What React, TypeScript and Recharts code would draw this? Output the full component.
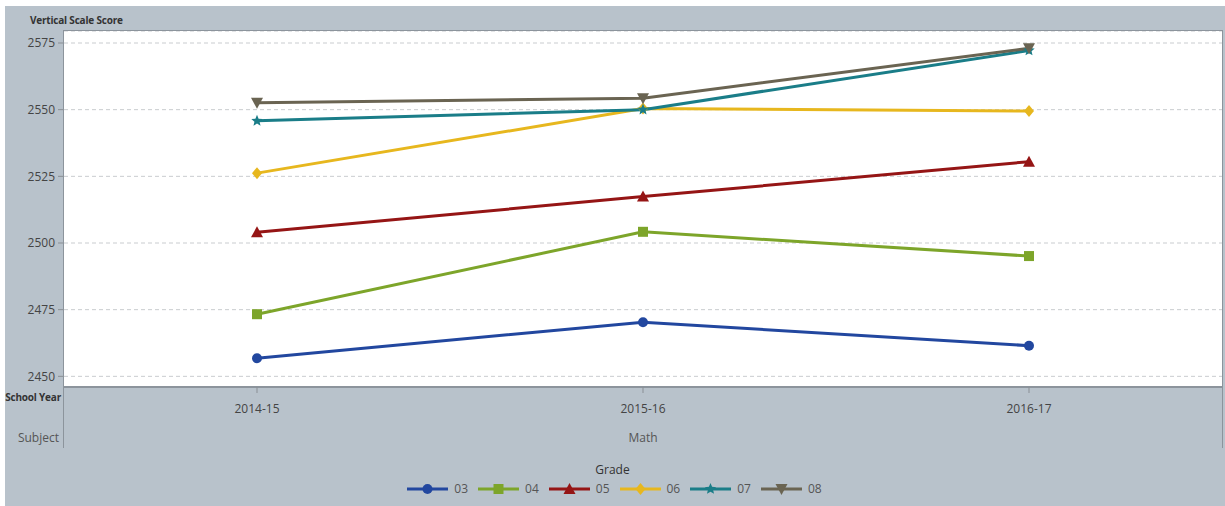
import * as React from 'react';
import { LineChart, Line, XAxis, YAxis, CartesianGrid } from 'recharts';

// ---- data ------------------------------------------------------------------
const schoolYears = ['2014-15', '2015-16', '2016-17'];
const grade03 = [2456.8, 2470.3, 2461.5];
const grade04 = [2473.3, 2504.2, 2495.1];
const grade05 = [2504.0, 2517.4, 2530.5];
const grade06 = [2526.2, 2550.4, 2549.5];
const grade07 = [2545.8, 2550.0, 2572.2];
const grade08 = [2552.6, 2554.3, 2573.0];
const yTicks = [2450, 2475, 2500, 2525, 2550, 2575];

const data = schoolYears.map((year, i) => ({
  year,
  g03: grade03[i],
  g04: grade04[i],
  g05: grade05[i],
  g06: grade06[i],
  g07: grade07[i],
  g08: grade08[i],
}));

type Shape = 'circle' | 'square' | 'triUp' | 'diamond' | 'star' | 'triDown';

const series: { key: string; name: string; color: string; shape: Shape }[] = [
  { key: 'g03', name: '03', color: '#22479f', shape: 'circle' },
  { key: 'g04', name: '04', color: '#7da52a', shape: 'square' },
  { key: 'g05', name: '05', color: '#951515', shape: 'triUp' },
  { key: 'g06', name: '06', color: '#e7b71e', shape: 'diamond' },
  { key: 'g07', name: '07', color: '#1a7d88', shape: 'star' },
  { key: 'g08', name: '08', color: '#6a6452', shape: 'triDown' },
];

const FONT = '"Open Sans", "Noto Sans", sans-serif';
const PANEL = '#b8c2cb';
const EDGE = '#8c949c';

function Marker({ shape, color, cx, cy, r = 5 }: { shape: Shape; color: string; cx: number; cy: number; r?: number }) {
  switch (shape) {
    case 'circle':
      return <circle cx={cx} cy={cy} r={r} fill={color} />;
    case 'square':
      return <rect x={cx - r} y={cy - r} width={r * 2} height={r * 2} fill={color} />;
    case 'triUp':
      return <polygon points={`${cx},${cy - r - 1} ${cx + r + 1},${cy + r} ${cx - r - 1},${cy + r}`} fill={color} />;
    case 'triDown':
      return <polygon points={`${cx - r - 1},${cy - r} ${cx + r + 1},${cy - r} ${cx},${cy + r + 1}`} fill={color} />;
    case 'diamond':
      return <polygon points={`${cx},${cy - r - 1} ${cx + r},${cy} ${cx},${cy + r + 1} ${cx - r},${cy}`} fill={color} />;
    case 'star': {
      const pts: string[] = [];
      for (let k = 0; k < 10; k++) {
        const rad = k % 2 === 0 ? r + 1 : (r + 1) * 0.45;
        const a = -Math.PI / 2 + (k * Math.PI) / 5;
        pts.push(`${cx + rad * Math.cos(a)},${cy + rad * Math.sin(a)}`);
      }
      return <polygon points={pts.join(' ')} fill={color} />;
    }
  }
  return null;
}

// legend drawn outside the chart so it does not shrink the plot area
function GradeLegend() {
  return (
    <div style={{ position: 'absolute', left: 0, top: 461, width: 1225, fontFamily: FONT, textAlign: 'center' }}>
      <div style={{ fontSize: 12, color: '#333', marginBottom: 2 }}>Grade</div>
      <div style={{ display: 'flex', justifyContent: 'center', gap: 10, alignItems: 'center', paddingLeft: 4 }}>
        {series.map((s) => (
          <div key={s.key} style={{ display: 'flex', alignItems: 'center', gap: 6 }}>
            <svg width={41} height={14}>
              <line x1={0} y1={7} x2={41} y2={7} stroke={s.color} strokeWidth={3} />
              <Marker shape={s.shape} color={s.color} cx={20.5} cy={7} />
            </svg>
            <span style={{ fontSize: 12, color: '#555' }}>{s.name}</span>
          </div>
        ))}
      </div>
    </div>
  );
}

export default function App() {
  return (
    <div style={{ position: 'absolute', left: 0, top: 0, width: 1225, height: 506, background: '#fff', fontFamily: FONT }}>
      <div style={{ position: 'absolute', left: 5, top: 6, right: 0, bottom: 0, background: PANEL }} />

      <div style={{ position: 'absolute', left: 30, top: 13, fontSize: 10, fontWeight: 700, color: '#333', letterSpacing: -0.2 }}>
        Vertical Scale Score
      </div>

      <div style={{ position: 'absolute', left: 0, top: 0 }}>
        <LineChart width={1225} height={506} data={data} margin={{ top: 31, right: 3, bottom: 59, left: 5 }}>
          <CartesianGrid horizontal vertical={false} fill="#ffffff" stroke="#c9cccf" strokeDasharray="4 3" />
          <XAxis
            dataKey="year"
            padding={{ left: 193, right: 193 }}
            height={60}
            axisLine={{ stroke: EDGE, strokeWidth: 2 }}
            tickLine={{ stroke: '#8a8f95' }}
            tickSize={6}
            tickMargin={11}
            tick={{ fontSize: 12, fill: '#444', fontFamily: FONT }}
          />
          <YAxis
            domain={[2446, 2579.5]}
            ticks={yTicks}
            width={59}
            axisLine={false}
            tickLine={{ stroke: '#8a8f95' }}
            tickSize={6}
            tickMargin={3}
            tick={{ fontSize: 12, fill: '#444', fontFamily: FONT }}
          />
          {series.map((s) => (
            <Line
              key={s.key}
              dataKey={s.key}
              name={s.name}
              stroke={s.color}
              strokeWidth={3}
              isAnimationActive={false}
              dot={(p: any) => <Marker key={`${s.key}-${p.index}`} shape={s.shape} color={s.color} cx={p.cx} cy={p.cy} />}
              activeDot={false}
            />
          ))}
        </LineChart>
      </div>

      {/* frame lines of the plot and category header */}
      <div style={{ position: 'absolute', left: 63, top: 30, width: 1160, height: 1, background: EDGE }} />
      <div style={{ position: 'absolute', left: 63, top: 30, width: 1, height: 418, background: EDGE }} />
      <div style={{ position: 'absolute', left: 1222, top: 30, width: 1, height: 418, background: EDGE }} />

      <div style={{ position: 'absolute', right: 1225 - 61, top: 390, fontSize: 10, fontWeight: 700, color: '#333', whiteSpace: 'nowrap', letterSpacing: -0.2 }}>
        School Year
      </div>
      <div style={{ position: 'absolute', right: 1225 - 59, top: 429, fontSize: 12, color: '#555', whiteSpace: 'nowrap' }}>
        Subject
      </div>
      <div style={{ position: 'absolute', left: 643, top: 429, transform: 'translateX(-50%)', fontSize: 12, color: '#555' }}>
        Math
      </div>

      <GradeLegend />
    </div>
  );
}
